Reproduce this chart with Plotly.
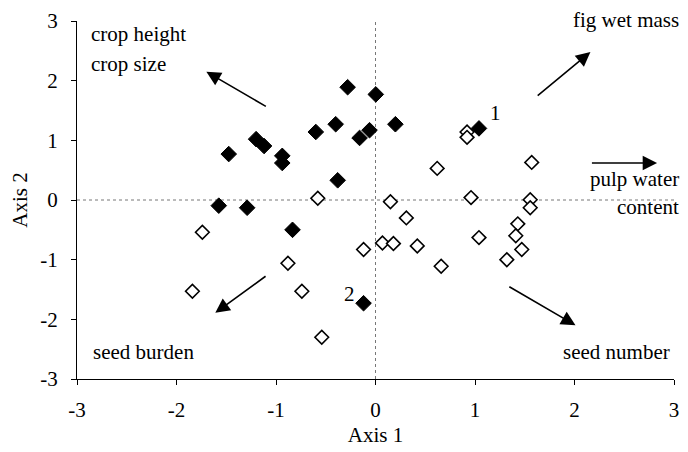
import plotly.graph_objects as go

# Group 1 (filled diamonds)
g1_x = [-1.475, -1.20, -1.12, -0.937, -0.937, -0.60, -0.40, -0.28, -0.16, -0.06,
        0.003, -0.38, 0.20, 1.04, -1.575, -1.29, -0.834, -0.12]
g1_y = [0.77, 1.02, 0.905, 0.74, 0.62, 1.14, 1.27, 1.89, 1.04, 1.17,
        1.77, 0.33, 1.27, 1.20, -0.095, -0.13, -0.50, -1.73]

# Group 2 (open diamonds)
g2_x = [-0.58, -1.74, -0.88, -0.12, 0.07, -1.84, -0.74, -0.54, 0.92, 0.92,
        0.62, 1.57, 0.15, 0.96, 1.555, 1.555, 0.31, 1.43, 1.41, 1.47,
        1.32, 1.04, 0.18, 0.42, 0.66]
g2_y = [0.03, -0.54, -1.06, -0.83, -0.72, -1.53, -1.53, -2.30, 1.14, 1.05,
        0.53, 0.63, -0.03, 0.04, 0.005, -0.13, -0.30, -0.40, -0.60, -0.83,
        -1.00, -0.63, -0.73, -0.77, -1.11]

# Variable vectors: (tail x, tail y, head x, head y)
vec_names = ["crop height / crop size", "fig wet mass", "pulp water content",
             "seed burden", "seed number"]
vec_tail_x = [-1.087, 1.615, 2.16, -1.09, 1.33]
vec_tail_y = [1.555, 1.73, 0.62, -1.26, -1.44]
vec_head_x = [-1.70, 2.16, 2.83, -1.61, 2.01]
vec_head_y = [2.15, 2.48, 0.62, -1.89, -2.10]

tick_vals = [-3, -2, -1, 0, 1, 2, 3]
tick_text = ["-3", "-2", "-1", "0", "1", "2", "3"]
FONT = "Liberation Serif"
TXT = 21

fig = go.Figure()
fig.add_trace(go.Scatter(
    x=g1_x, y=g1_y, mode="markers",
    marker=dict(symbol="diamond", size=12, color="black",
                line=dict(color="black", width=1)),
    showlegend=False, cliponaxis=False))
fig.add_trace(go.Scatter(
    x=g2_x, y=g2_y, mode="markers",
    marker=dict(symbol="diamond", size=10.5, color="white",
                line=dict(color="black", width=1.6)),
    showlegend=False, cliponaxis=False))

# dotted reference lines through the origin
fig.add_shape(type="line", x0=0, x1=0, y0=-3, y1=3, xref="x", yref="y",
              line=dict(color="#777777", width=1, dash="dot"), layer="below")
fig.add_shape(type="line", x0=-3, x1=3, y0=0, y1=0, xref="x", yref="y",
              line=dict(color="#777777", width=1, dash="dot"), layer="below")

for tx, ty, hx, hy in zip(vec_tail_x, vec_tail_y, vec_head_x, vec_head_y):
    fig.add_annotation(x=hx, y=hy, ax=tx, ay=ty, xref="x", yref="y",
                       axref="x", ayref="y", text="", showarrow=True,
                       arrowhead=2, arrowsize=1.8, arrowwidth=1.6,
                       arrowcolor="black", standoff=0, startstandoff=0)

W, H = 688, 452
L, R, T, B = 77, 9, 19, 73
labels = [
    ("crop height", 89, 32, "left"),
    ("crop size", 89, 62, "left"),
    ("fig wet mass", 686, 18, "right"),
    ("pulp water", 686, 178, "right"),
    ("content", 686, 206, "right"),
    ("seed burden", 91, 352, "left"),
    ("seed number", 677, 352, "right"),
]
for txt, px, py, anchor in labels:
    fig.add_annotation(
        x=(px - L) / (W - L - R), y=1 - (py - T) / (H - T - B),
        xref="paper", yref="paper", text=txt, showarrow=False,
        xanchor=anchor, yanchor="middle",
        font=dict(family=FONT, size=TXT, color="black"))

fig.add_annotation(x=1.21, y=1.45, xref="x", yref="y", text="1",
                   showarrow=False, font=dict(family=FONT, size=TXT, color="black"))
fig.add_annotation(x=-0.26, y=-1.58, xref="x", yref="y", text="2",
                   showarrow=False, font=dict(family=FONT, size=TXT, color="black"))

axis_common = dict(
    range=[-3, 3], tickvals=tick_vals, ticktext=tick_text, ticks="outside",
    ticklen=5, tickcolor="black", tickwidth=1, showgrid=False, zeroline=False,
    showline=True, linecolor="black", linewidth=1,
    tickfont=dict(family=FONT, size=TXT, color="black"),
)
fig.update_xaxes(**axis_common, ticklabelstandoff=7,
                 title=dict(text="Axis 1", font=dict(family=FONT, size=TXT, color="black"),
                            standoff=6))
fig.update_yaxes(**axis_common, ticklabelstandoff=9,
                 title=dict(text="Axis 2", font=dict(family=FONT, size=TXT, color="black"),
                            standoff=6))

fig.update_layout(
    width=W, height=H,
    margin=dict(l=L, r=R, t=T, b=B),
    plot_bgcolor="white", paper_bgcolor="white",
    showlegend=False,
)

fig.write_html("out.html")
